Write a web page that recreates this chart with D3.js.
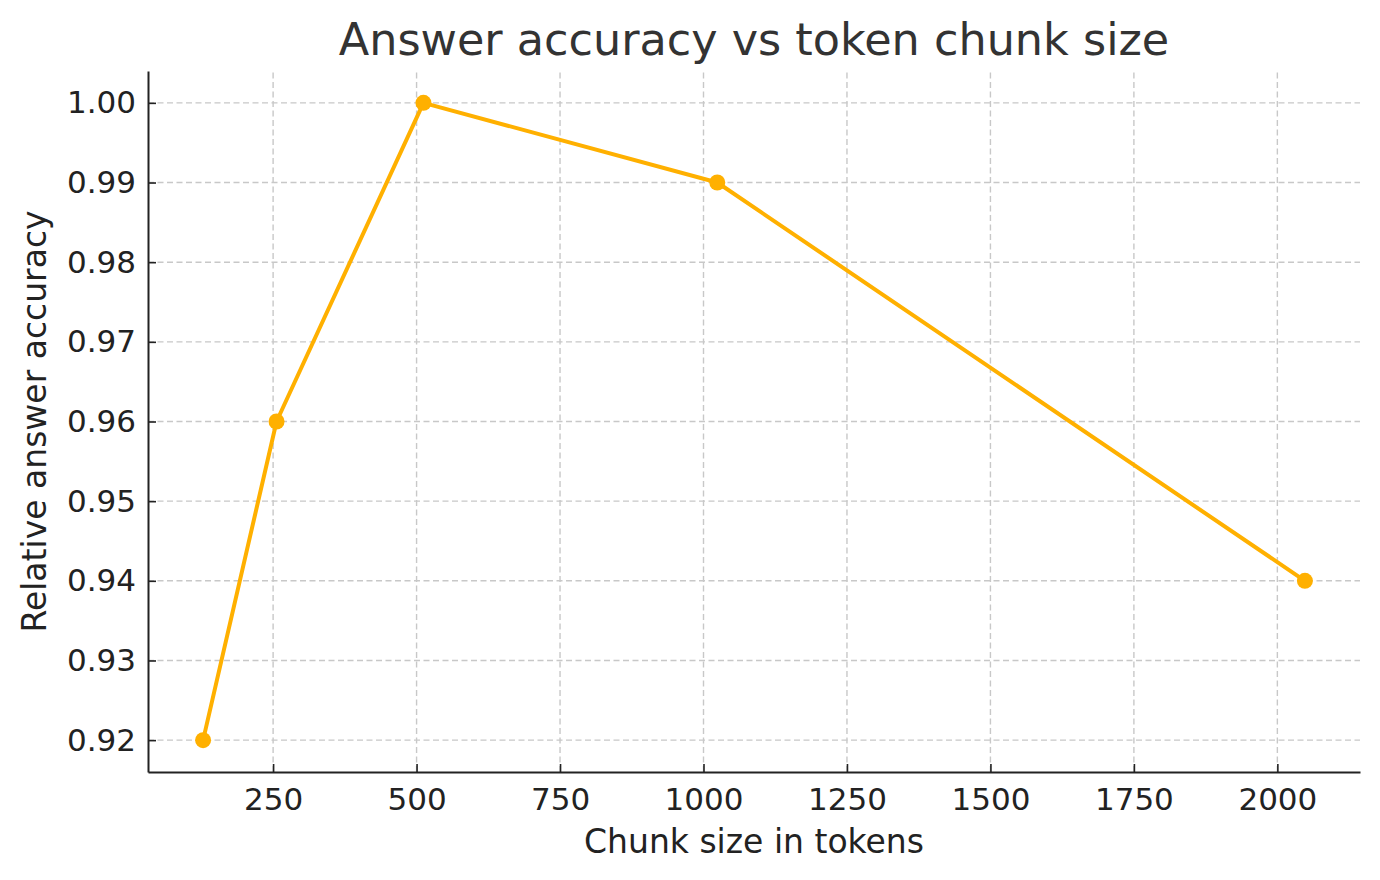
<!DOCTYPE html>
<html>
<head>
<meta charset="utf-8">
<script src="https://cdn.jsdelivr.net/npm/d3@7"></script>
<style>
  body { margin: 0; background: #fff; }
  svg { display: block; font-family: "DejaVu Sans", sans-serif; }
</style>
</head>
<body>
<div id="chart"></div>
<script>
// data
var chunkSizes = [128, 256, 512, 1024, 2048];
var accuracy = [0.92, 0.96, 1.00, 0.99, 0.94];
var xTicks = [250, 500, 750, 1000, 1250, 1500, 1750, 2000];
var yTicks = [0.92, 0.93, 0.94, 0.95, 0.96, 0.97, 0.98, 0.99, 1.00];

var width = 1380, height = 880;
var margin = { top: 71, right: 20, bottom: 108, left: 148 };
var lineColor = '#ffb000';

var svg = d3.select('#chart')
  .append('svg')
  .attr('width', width)
  .attr('height', height);

// matplotlib-like 5% padding
var xPad = (d3.max(chunkSizes) - d3.min(chunkSizes)) * 0.05;
var yPad = (d3.max(accuracy) - d3.min(accuracy)) * 0.05;

var x = d3.scaleLinear()
  .domain([d3.min(chunkSizes) - xPad, d3.max(chunkSizes) + xPad])
  .range([margin.left, width - margin.right]);

var y = d3.scaleLinear()
  .domain([d3.min(accuracy) - yPad, d3.max(accuracy) + yPad])
  .range([height - margin.bottom, margin.top]);

// grid
var grid = svg.append('g')
  .attr('stroke', '#c8c8c8')
  .attr('stroke-width', 1.4)
  .attr('stroke-dasharray', '6,3.5');
grid.selectAll('.vgrid').data(xTicks).enter()
  .append('line')
  .attr('x1', d => x(d)).attr('x2', d => x(d))
  .attr('y1', y.range()[0]).attr('y2', y.range()[1]);
grid.selectAll('.hgrid').data(yTicks).enter()
  .append('line')
  .attr('y1', d => y(d)).attr('y2', d => y(d))
  .attr('x1', x.range()[0]).attr('x2', x.range()[1]);

// axes, ticks pointing inward
var xAxis = svg.append('g')
  .attr('transform', 'translate(0,' + (height - margin.bottom) + ')')
  .call(d3.axisBottom(x).tickValues(xTicks).tickFormat(d3.format('d')).tickSizeInner(-8).tickSizeOuter(0).tickPadding(16));
var yAxis = svg.append('g')
  .attr('transform', 'translate(' + margin.left + ',0)')
  .call(d3.axisLeft(y).tickValues(yTicks).tickFormat(d3.format('.2f')).tickSizeInner(-8).tickSizeOuter(0).tickPadding(12));

[xAxis, yAxis].forEach(function (g) {
  g.attr('font-family', null).attr('font-size', null);
  g.select('.domain').attr('stroke', '#222').attr('stroke-width', 2);
  g.selectAll('.tick line').attr('stroke', '#222').attr('stroke-width', 1.6);
  g.selectAll('.tick text')
    .attr('fill', '#222')
    .style('font-size', '31px');
});

// line + markers
var line = d3.line()
  .x((d, i) => x(chunkSizes[i]))
  .y(d => y(d));

svg.append('path')
  .datum(accuracy)
  .attr('fill', 'none')
  .attr('stroke', lineColor)
  .attr('stroke-width', 4)
  .attr('stroke-linejoin', 'round')
  .attr('d', line);

svg.selectAll('.dot').data(accuracy).enter()
  .append('circle')
  .attr('cx', (d, i) => x(chunkSizes[i]))
  .attr('cy', d => y(d))
  .attr('r', 8)
  .attr('fill', lineColor);

// title and labels
svg.append('text')
  .attr('x', (margin.left + width - margin.right) / 2)
  .attr('y', 55)
  .attr('text-anchor', 'middle')
  .attr('fill', '#333')
  .style('font-size', '44.5px')
  .text('Answer accuracy vs token chunk size');

svg.append('text')
  .attr('x', (margin.left + width - margin.right) / 2)
  .attr('y', 853)
  .attr('text-anchor', 'middle')
  .attr('fill', '#222')
  .style('font-size', '33px')
  .text('Chunk size in tokens');

svg.append('text')
  .attr('transform', 'translate(46,' + ((margin.top + height - margin.bottom) / 2) + ') rotate(-90)')
  .attr('text-anchor', 'middle')
  .attr('fill', '#222')
  .style('font-size', '33px')
  .text('Relative answer accuracy');
</script>
</body>
</html>
